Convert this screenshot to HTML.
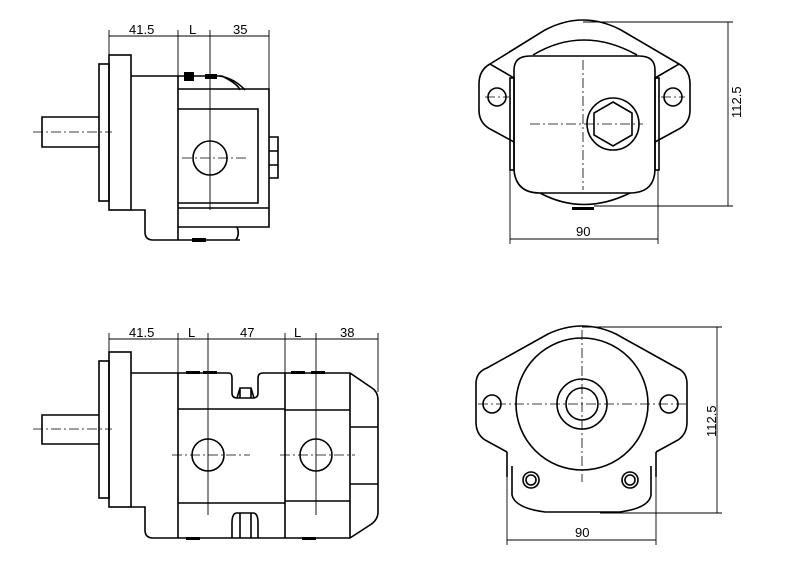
<!DOCTYPE html>
<html><head><meta charset="utf-8"><style>
html,body{margin:0;padding:0;background:#fff;}
svg{display:block;}
text{font-family:"Liberation Sans Narrow","Liberation Sans",sans-serif;font-size:13px;fill:#000;}
</style></head><body>
<svg width="800" height="565" viewBox="0 0 800 565" xmlns="http://www.w3.org/2000/svg">
<g fill="none" stroke="#000" stroke-width="1.6">
<!-- ===== TOP LEFT ===== -->
<rect x="99" y="64" width="10" height="137"/>
<rect x="109" y="55" width="22" height="155"/>
<path d="M99 117 H42 V147 H99"/>
<path d="M131 76 H222"/>
<path d="M131 210 H145 V232 Q145 240 153 240 H240"/>
<path d="M178 76 V240"/>
<path d="M178 89 H269 V227 H178"/>
<path d="M178 109 H258 V203 H178"/>
<path d="M178 208 H269"/>
<path d="M237 227 Q240 234 236 240"/>
<circle cx="210" cy="158" r="17"/>
<path d="M269 137 H278 V178 H269 M269 151 H278 M269 165 H278"/>
<path d="M219 76 Q234 78 245 90 M222 76 Q238 84 240 90"/>
<!-- ===== BOTTOM LEFT ===== -->
<rect x="99" y="361" width="10" height="137"/>
<rect x="109" y="352" width="22" height="155"/>
<path d="M99 415 H42 V444 H99"/>
<path d="M131 373 H229 Q232 373 232 378 V393 Q232 398 237 398 H253 Q258 398 258 393 V378 Q258 373 263 373 H350 L372 388 Q378 392 378 400 V512 Q378 520 370 525 L350 538 H153 Q145 538 145 530 V507 H131"/>
<path d="M237 398 L240 388 H251 L254 398 M240 388 V398 M251 388 V398"/>
<path d="M232 538 V523 Q232 513 237 513 H253 Q258 513 258 523 V538 M240 513 V538 M251 513 V538"/>
<path d="M178 373 V538 M285 373 V538 M350 373 V538"/>
<path d="M178 409 H285 M285 410 H350 M178 503 H285 M285 501 H350"/>
<path d="M350 427 H378 M350 484 H378"/>
<circle cx="208" cy="455" r="16"/>
<circle cx="316" cy="455" r="16"/>
<!-- ===== TOP RIGHT ===== -->
<path d="M514 78 L490 64 Q479 70 479 84 V110 Q479 124 492 130 L514 142"/>
<path d="M655 78 L679 64 Q690 70 690 84 V110 Q690 124 677 130 L655 142"/>
<path d="M490 64 L545 30 Q583 10 621 30 L679 64"/>
<circle cx="497" cy="97" r="9"/>
<circle cx="673" cy="97" r="9"/>
<path d="M514 78 V170 M655 78 V170"/>
<rect x="510" y="78" width="4" height="92"/>
<rect x="655" y="78" width="4" height="92"/>
<path d="M514 78 V70 Q514 56 530 56 H639 Q655 56 655 70 V78"/>
<path d="M514 170 Q516 193 540 193 H630 Q654 193 655 170"/>
<path d="M533 55 Q583 25 637 55"/>
<path d="M540 193 Q583 216 630 193"/>
<circle cx="613" cy="124" r="26"/>
<polygon points="613,102 632,113 632,135 613,146 594,135 594,113"/>
<!-- ===== BOTTOM RIGHT ===== -->
<path d="M507 452 L485 440 Q476 434 476 422 V384 Q476 372 487 368 L548 334 Q582 318 616 334 L677 368 Q687 372 687 384 V422 Q687 434 678 440 L656 452"/>
<circle cx="492" cy="404" r="9"/>
<circle cx="669" cy="404" r="9"/>
<circle cx="582" cy="404" r="66"/>
<circle cx="582" cy="404" r="25"/>
<circle cx="582" cy="404" r="16"/>
<path d="M507 452 V477 M656 452 V477"/>
<path d="M512 466 V495 Q515 508 545 512 H620 Q649 508 651 495 V466"/>
<circle cx="531" cy="480" r="8"/><circle cx="531" cy="480" r="5"/>
<circle cx="630" cy="480" r="8"/><circle cx="630" cy="480" r="5"/>
</g>
<g fill="#000">
<rect x="184" y="72" width="10" height="9"/>
<rect x="205" y="74" width="12" height="5"/>
<rect x="192" y="238" width="14" height="4"/>
<rect x="186" y="371" width="14" height="3"/><rect x="203" y="371" width="14" height="3"/>
<rect x="291" y="371" width="14" height="3"/><rect x="311" y="371" width="14" height="3"/>
<rect x="186" y="537" width="14" height="3"/><rect x="302" y="537" width="14" height="3"/>
<rect x="572" y="207" width="22" height="3"/>
</g>
<g fill="none" stroke="#000" stroke-width="0.9">
<path d="M109 36 H269 M109 30 V55 M178 30 V76 M210 30 V210 M269 30 V89"/>
<path d="M109 339 H378 M109 333 V352 M178 333 V373 M208 333 V515 M285 333 V373 M316 333 V515 M378 333 V392"/>
<path d="M510 239 H658 M510 170 V244 M658 170 V244"/>
<path d="M728 22 V206 M583 22 H733 M594 206 H733"/>
<path d="M507 540 H656 M507 477 V545 M656 477 V545"/>
<path d="M717 327 V513 M582 327 H722 M600 513 H722"/>
</g>
<g fill="none" stroke="#000" stroke-width="0.8" stroke-dasharray="10,3,2,3">
<path d="M33 132 H112"/>
<path d="M33 429 H112"/>
<path d="M182 158 H248"/>
<path d="M172 455 H250 M280 455 H355"/>
<path d="M583 60 V190 M530 124 H643 M485 97 H509 M661 97 H685"/>
<path d="M582 330 V482 M478 404 H686"/>
</g>
<g>
<text x="129" y="34">41.5</text><text x="189" y="34">L</text><text x="233" y="34">35</text>
<text x="129" y="337">41.5</text><text x="188" y="337">L</text><text x="240" y="337">47</text><text x="294" y="337">L</text><text x="340" y="337">38</text>
<text x="576" y="236">90</text>
<text x="575" y="537">90</text>
<text transform="translate(741,118) rotate(-90)">112.5</text>
<text transform="translate(716,437) rotate(-90)">112.5</text>
</g>
</svg>
</body></html>
